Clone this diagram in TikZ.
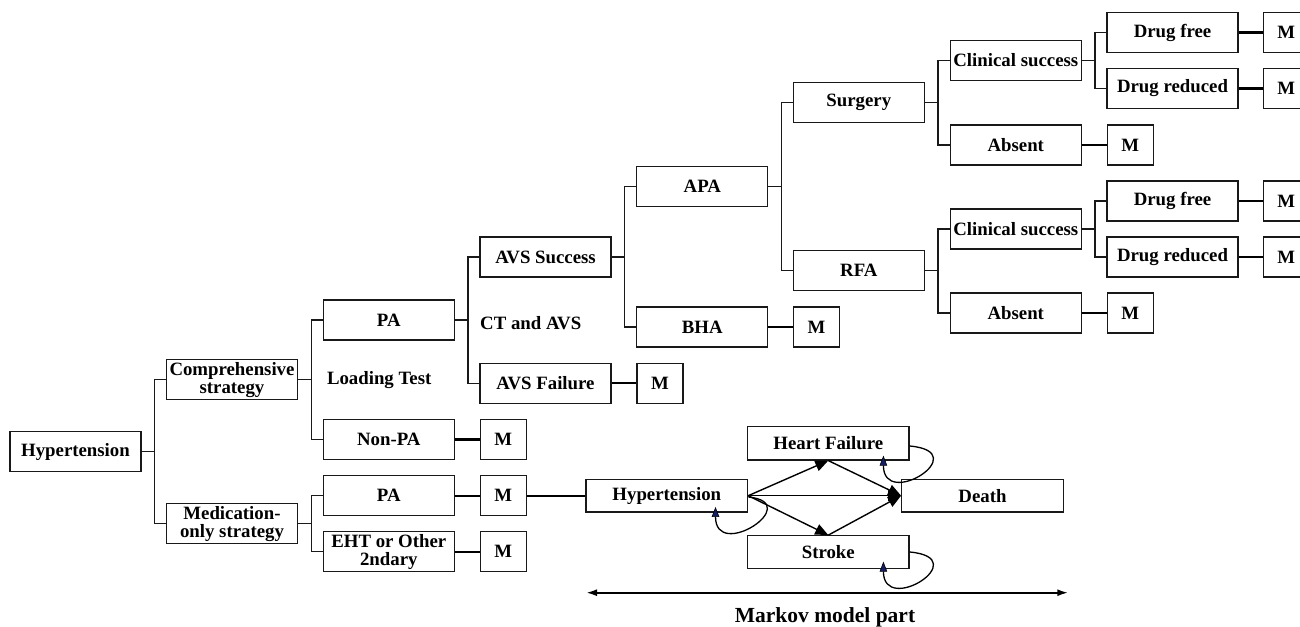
\documentclass[tikz,border=0pt]{standalone}
\usepackage{fontspec}
\setmainfont{Liberation Serif}
\usetikzlibrary{arrows.meta,calc}
\newcommand\tfont{\fontsize{18.8}{18.3}\selectfont\bfseries}
\newcommand\bigfont{\fontsize{21.5}{24}\selectfont\bfseries}
\definecolor{navyfill}{RGB}{20,30,100}
\begin{document}
\begin{tikzpicture}[x=1pt,y=-1pt,
 box/.style={draw=black!90, line width=1.3pt, minimum width=131pt, minimum height=40pt, inner sep=0pt, align=center, font=\tfont},
 mbox/.style={box, minimum width=46pt},
 mkbox/.style={box, minimum width=161.5pt, minimum height=32.5pt},
 lbl/.style={font=\tfont, inner sep=0pt, anchor=west},
 tline/.style={line width=1.3pt, draw=black!90},
 mline/.style={line width=2.3pt},
 arr/.style={line width=1.4pt, -{Triangle[length=13pt,width=11pt]}},
 selfl/.style={line width=1.3pt, -{Triangle[length=10pt,width=7.5pt,fill=navyfill,color=black,line width=0.6pt]}},
 darr/.style={line width=2pt, {Latex[length=11pt,width=7pt]}-{Latex[length=11pt,width=7pt]}}
]
\useasboundingbox (0,0) rectangle (1300,626);

% decision tree
\node[box] (hyp) at (75.5,451.7) {Hypertension};
\node[box] (comp) at (232,379.7) {Comprehensive\\strategy};
\node[box] (med) at (232,523.7) {Medication-\\only strategy};
\node[box] (pa1) at (388.8,320) {PA};
\node[box] (nonpa) at (388.8,439.5) {Non-PA};
\node[box] (pa2) at (388.8,495.7) {PA};
\node[box] (eht) at (388.8,551.7) {EHT or Other\\2ndary};
\node[mbox] (m1) at (503.2,439.5) {M};
\node[mbox] (m2) at (503.2,495.7) {M};
\node[mbox] (m3) at (503.2,551.7) {M};
\node[lbl] (lt) at (326.8,380) {Loading Test};
\node[box] (avss) at (545.5,257) {AVS Success};
\node[box] (avsf) at (545.5,383.3) {AVS Failure};
\node[mbox] (m4) at (660,383.3) {M};
\node[lbl] (ct) at (480,323) {CT and AVS};
\node[box] (apa) at (702.3,186.7) {APA};
\node[box] (bha) at (702.3,327) {BHA};
\node[mbox] (m5) at (816.5,327) {M};
\node[box] (surg) at (858.8,102.7) {Surgery};
\node[box] (rfa) at (858.8,270.7) {RFA};
\node[box] (cs1) at (1015.8,60.5) {Clinical success};
\node[box] (abs1) at (1015.8,145) {Absent};
\node[mbox] (m6) at (1130.3,145) {M};
\node[box] (df1) at (1172.5,32.5) {Drug free};
\node[box] (dr1) at (1172.5,88.5) {Drug reduced};
\node[mbox] (m7) at (1286.3,32.5) {M};
\node[mbox] (m8) at (1286.3,88.5) {M};
\node[box] (cs2) at (1015.8,229) {Clinical success};
\node[box] (abs2) at (1015.8,313) {Absent};
\node[mbox] (m9) at (1130.3,313) {M};
\node[box] (df2) at (1172.5,201) {Drug free};
\node[box] (dr2) at (1172.5,257) {Drug reduced};
\node[mbox] (m10) at (1286.3,201) {M};
\node[mbox] (m11) at (1286.3,257) {M};

\draw[tline] (hyp.east) -- ++(13,0) coordinate (s0) |- (comp.west) (s0) |- (med.west);
\draw[tline] (comp.east) -- ++(13,0) coordinate (s1) |- (pa1.west) (s1) |- (nonpa.west);
\draw[tline] (med.east) -- ++(13,0) coordinate (s2) |- (pa2.west) (s2) |- (eht.west);
\draw[tline] (pa1.east) -- ++(13,0) coordinate (s3) |- (avss.west) (s3) |- (avsf.west);
\draw[tline] (avss.east) -- ++(13,0) coordinate (s4) |- (apa.west) (s4) |- (bha.west);
\draw[tline] (apa.east) -- ++(13,0) coordinate (s5) |- (surg.west) (s5) |- (rfa.west);
\draw[tline] (surg.east) -- ++(13,0) coordinate (s6) |- (cs1.west) (s6) |- (abs1.west);
\draw[tline] (rfa.east) -- ++(13,0) coordinate (s7) |- (cs2.west) (s7) |- (abs2.west);
\draw[tline] (cs1.east) -- ++(13,0) coordinate (s8) |- (df1.west) (s8) |- (dr1.west);
\draw[tline] (cs2.east) -- ++(13,0) coordinate (s9) |- (df2.west) (s9) |- (dr2.west);

\draw[mline] (nonpa) -- (m1);
\draw[mline] (pa2) -- (m2);
\draw[mline] (eht) -- (m3);
\draw[mline] (avsf) -- (m4);
\draw[mline] (bha) -- (m5);
\draw[mline] (abs1) -- (m6);
\draw[mline] (df1) -- (m7);
\draw[mline] (dr1) -- (m8);
\draw[mline] (abs2) -- (m9);
\draw[mline] (df2) -- (m10);
\draw[mline] (dr2) -- (m11);

% Markov part
\node[mkbox] (mhyp) at (666.8,495.7) {Hypertension};
\node[mkbox, minimum height=33.3pt] (hf) at (828.3,443.3) {Heart Failure};
\node[mkbox] (death) at (982.5,495.7) {Death};
\node[mkbox] (stroke) at (828.3,552) {Stroke};
\draw[mline] (m2) -- (mhyp);

\draw[arr] (mhyp.east) -- (hf.south);
\draw[arr] (mhyp.east) -- (stroke.north);
\draw[arr] (hf.south) -- (death.west);
\draw[arr] (stroke.north) -- (death.west);
\draw[arr] (mhyp.east) -- (death.west);

\draw[selfl] ($(hf.east)+(0,2.7)$) .. controls ($(hf.east)+(66,8.7)$) and ($(hf.south east)+(-26.3,50)$) .. ($(hf.south east)+(-26.3,-5)$);
\draw[selfl] ($(stroke.east)+(0,0)$) .. controls ($(stroke.east)+(66,6)$) and ($(stroke.south east)+(-26.3,47.7)$) .. ($(stroke.south east)+(-26.3,-7.3)$);
\draw[selfl] ($(mhyp.east)+(0.3,1.3)$) .. controls ($(mhyp.east)+(57.3,7.3)$) and ($(mhyp.south east)+(-32.7,49.3)$) .. ($(mhyp.south east)+(-32.7,-5.7)$);

\coordinate (ml) at (586,592.7);
\coordinate (mr) at (1068.3,592.7);
\draw[darr] (ml) -- (mr);
\node[font=\bigfont, inner sep=0pt] (mlabel) at (825,617) {Markov model part};
\end{tikzpicture}
\end{document}
